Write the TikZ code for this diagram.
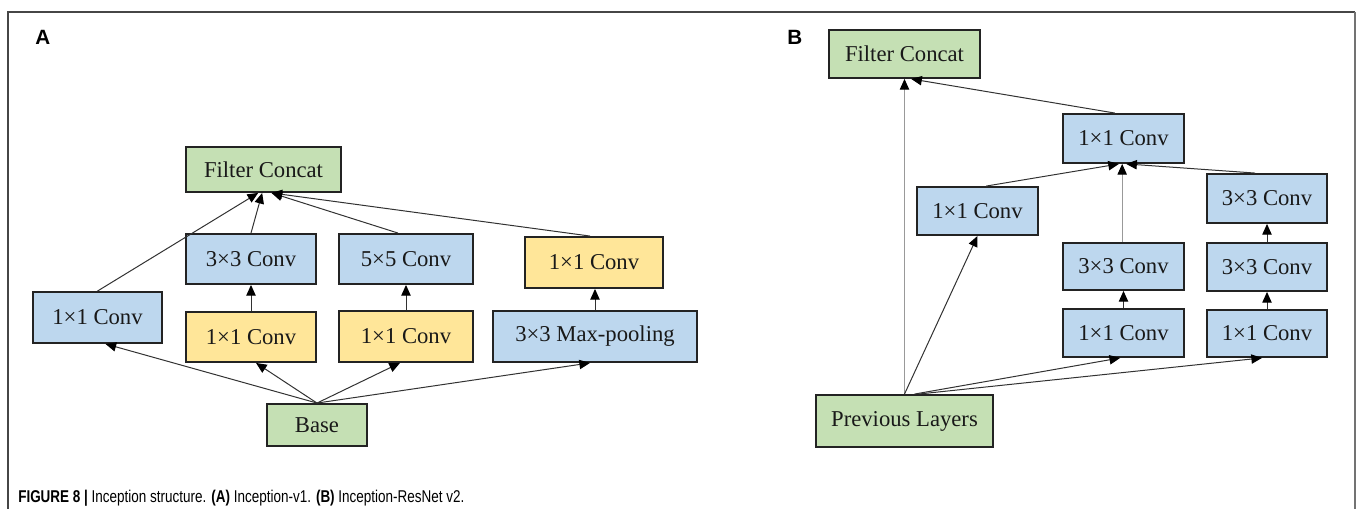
\documentclass[tikz,border=0pt]{standalone}
\usepackage{fontspec}
\usepackage{graphicx}
\setmainfont{Liberation Serif}
\setsansfont{Liberation Sans}
\usetikzlibrary{arrows.meta}

\definecolor{boxgreen}{RGB}{197,224,180}
\definecolor{boxblue}{RGB}{189,215,238}
\definecolor{boxyellow}{RGB}{255,230,153}
\definecolor{edgegray}{RGB}{35,35,35}
\definecolor{linkgray}{RGB}{50,50,50}
\definecolor{framegray}{RGB}{70,70,70}

\begin{document}
\begin{tikzpicture}[x=0.75pt,y=-0.75pt,
  layer/.style={draw=edgegray, line width=1.4pt, inner sep=0pt,
    font=\fontsize{17}{20}\selectfont, text=black!90},
  gbox/.style={layer, fill=boxgreen},
  bbox/.style={layer, fill=boxblue},
  ybox/.style={layer, fill=boxyellow},
  sz/.style 2 args={minimum width=0.75pt*#1, minimum height=0.75pt*#2},
  link/.style={draw=linkgray, line width=0.75pt,
    -{Triangle[length=8pt,width=7pt,color=black]}},
  faint/.style={link, draw=black!40},
  panel/.style={font=\fontsize{15.5}{18}\sffamily\bfseries, anchor=base west, inner sep=0pt},
]
\useasboundingbox (0,0) rectangle (1357,509);

% outer frame
\draw[framegray, line width=1pt] (8,509) -- (8,12) -- (1355,12);
\draw[black!55, line width=1.2pt] (1355,12) -- (1355,509);

% panel letters
\node[panel] (labA) at (35,45) {A};
\node[panel] (labB) at (787,45) {B};

% ---------- Inception-v1 ----------
\node[gbox, sz={155}{45}] (fcA) at (263.5,169.5) {Filter Concat};
\node[bbox, sz={130}{50}] (c33) at (251,259) {3×3 Conv};
\node[bbox, sz={134}{50}] (c55) at (406,259) {5×5 Conv};
\node[ybox, sz={138}{51}] (y11r) at (594,262.5) {1×1 Conv};
\node[bbox, sz={129}{51}] (b11) at (97.5,317.5) {1×1 Conv};
\node[ybox, sz={130}{50}] (y11a) at (251,337) {1×1 Conv};
\node[ybox, sz={134}{51}] (y11b) at (406,336.5) {1×1 Conv};
\node[bbox, sz={204}{51}] (mp) at (595,336.5) {3×3 Max-pooling};
\node[gbox, sz={100}{42}] (base) at (317,425) {Base};

\draw[link] (b11.north) -- ([xshift=-4pt]fcA.south);
\draw[link] (c33.north) -- ([xshift=-1pt]fcA.south);
\draw[link] ([xshift=-6pt]c55.north) -- ([xshift=6pt]fcA.south);
\draw[link] ([xshift=-3pt]y11r.north) -- ([xshift=6pt]fcA.south);
\draw[link] (y11a.north) -- (c33.south);
\draw[link] (y11b.north) -- (c55.south);
\draw[link] (mp.north) -- (mp.north |- y11r.south);
\draw[link] (base.north) -- ([xshift=6pt]b11.south);
\draw[link] (base.north) -- ([xshift=3.75pt]y11a.south);
\draw[link] (base.north) -- ([xshift=-4.5pt]y11b.south);
\draw[link] (base.north) -- ([xshift=-3.75pt]mp.south);

% ---------- Inception-ResNet v2 ----------
\node[gbox, sz={151}{48}] (fcB) at (904.5,54) {Filter Concat};
\node[bbox, sz={121}{49}] (t11) at (1123.5,138.5) {1×1 Conv};
\node[bbox, sz={121}{48}] (l11) at (977.5,211) {1×1 Conv};
\node[bbox, sz={120}{49}] (r33a) at (1267,198.5) {3×3 Conv};
\node[bbox, sz={121}{47}] (m33) at (1123.5,266.5) {3×3 Conv};
\node[bbox, sz={120}{48}] (r33b) at (1267,267) {3×3 Conv};
\node[bbox, sz={121}{48}] (m11) at (1123.5,333) {1×1 Conv};
\node[bbox, sz={120}{47}] (r11) at (1267,333.5) {1×1 Conv};
\node[gbox, sz={177}{52}] (pl) at (904.5,421) {Previous Layers};

\draw[faint] (pl.north) -- (pl.north |- fcB.south);
\draw[link] ([xshift=-6.5pt]t11.north) -- ([xshift=5pt]fcB.south);
\draw[link] ([xshift=6.5pt]l11.north) -- ([xshift=-3.4pt]t11.south);
\draw[faint] ([xshift=-1pt]m33.north) -- ([xshift=-1pt]t11.south);
\draw[link] ([xshift=-9pt]r33a.north) -- ([xshift=2pt]t11.south);
\draw[link] (m11.north) -- (m33.south);
\draw[link] (r11.north) -- (r33b.south);
\draw[link] (r33b.north) -- (r33a.south);
\draw[link] (pl.north) -- (l11.south);
\draw[link] ([xshift=7.5pt]pl.north) -- ([xshift=-2.5pt]m11.south);
\draw[link] ([xshift=10.5pt]pl.north) -- ([xshift=-3.75pt]r11.south);

% caption
\node[anchor=base west, inner sep=0pt] (cap) at (18,503)
  {\fontsize{12.8}{15}\sffamily\scalebox{0.79}[1]{\textbf{FIGURE 8 |} Inception structure. \textbf{(A)} Inception-v1. \textbf{(B)} Inception-ResNet v2.}};
\end{tikzpicture}
\end{document}
